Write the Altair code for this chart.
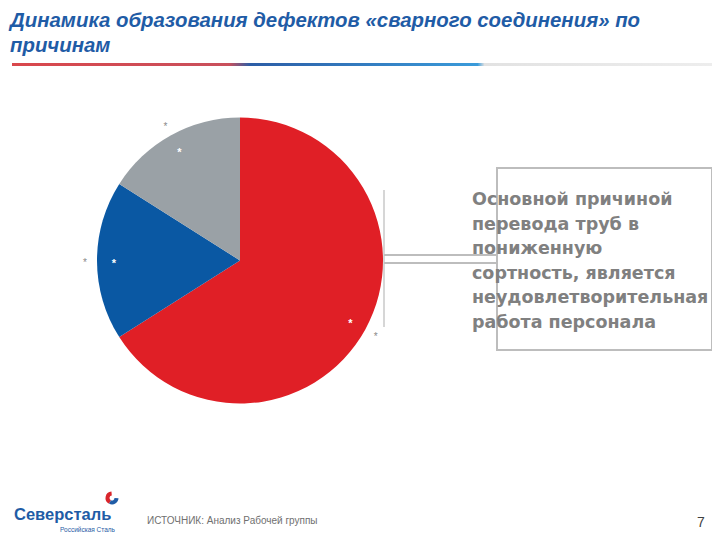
import altair as alt
import pandas as pd

# ---- data ----
reasons = ["Неудовлетворительная работа персонала", "Причина 2", "Причина 3"]
shares = [66, 18, 16]
colors = ["#E01F26", "#0A58A3", "#9AA1A6"]
inner_marks = ["*", "*", "*"]
outer_marks = ["*", "*", "*"]

title_lines = ["Динамика образования дефектов «сварного соединения» по", "причинам"]
note_lines = ["Основной причиной", "перевода труб в", "пониженную",
              "сортность, является", "неудовлетворительная", "работа персонала"]
source_text = "ИСТОЧНИК: Анализ Рабочей группы"
page_number = "7"
logo_text = "Северсталь"
logo_sub = "Российская Сталь"

df = pd.DataFrame({"reason": reasons, "share": shares, "idx": list(range(len(reasons))),
                   "inner": inner_marks, "outer": outer_marks})
one = pd.DataFrame({"a": [0]})

OX, OY = 8, 8  # page margin offset
def px(v): return v - OX
def py(v): return v - OY

CX, CY, R = px(240), py(260.5), 143
FONT = "Liberation Sans"

theta = alt.Theta("share:Q", stack=True)
order = alt.Order("idx:Q", sort="ascending")
color = alt.Color("reason:N", scale=alt.Scale(domain=reasons, range=colors), legend=None)

base = alt.Chart(df)
pie = base.mark_arc(radius=R, strokeWidth=0).encode(
    theta=theta, order=order, color=color, x=alt.value(CX), y=alt.value(CY))
inner = base.mark_text(radius=126, color="white", fontSize=11, font=FONT, fontWeight="bold",
                       baseline="middle", align="center").encode(
    theta=theta, order=order, text="inner:N", x=alt.value(CX), y=alt.value(CY + 3))
outer = base.mark_text(radius=155, color="#8A8A8A", fontSize=10, font=FONT,
                       baseline="middle", align="center").encode(
    theta=theta, order=order, text="outer:N", x=alt.value(CX), y=alt.value(CY + 2))

o = alt.Chart(one)
title = o.mark_text(align="left", baseline="alphabetic", font=FONT, fontSize=20.4,
                    fontStyle="italic", fontWeight="bold", color="#1F5CA6",
                    lineBreak="\n", lineHeight=25).encode(
    x=alt.value(px(10)), y=alt.value(py(27)), text=alt.value("\n".join(title_lines)))

grad = alt.Gradient(gradient="linear", x1=0, x2=1, y1=0, y2=0, stops=[
    alt.GradientStop(color="#D9474C", offset=0),
    alt.GradientStop(color="#C9505C", offset=0.31),
    alt.GradientStop(color="#2C5DA6", offset=0.34),
    alt.GradientStop(color="#3A9BDA", offset=0.665),
    alt.GradientStop(color="#E2E2E2", offset=0.675),
    alt.GradientStop(color="#EDEDED", offset=1)])
gline = o.mark_rect(color=grad).encode(
    x=alt.value(px(12)), x2=alt.value(px(712)), y=alt.value(py(63)), y2=alt.value(py(66)))

box = o.mark_rect(fill="white", fillOpacity=0, stroke="#BDBDBD", strokeWidth=2).encode(
    x=alt.value(px(497)), x2=alt.value(px(712)), y=alt.value(py(168)), y2=alt.value(py(350)))
vline = o.mark_rule(color="#C8C8C8", strokeWidth=1.5).encode(
    x=alt.value(px(384)), y=alt.value(py(190)), y2=alt.value(py(327)))
h1 = o.mark_rule(color="#BDBDBD", strokeWidth=2).encode(
    x=alt.value(px(384)), x2=alt.value(px(497)), y=alt.value(py(255)))
h2 = o.mark_rule(color="#BDBDBD", strokeWidth=2).encode(
    x=alt.value(px(384)), x2=alt.value(px(497)), y=alt.value(py(263)))

note = o.mark_text(align="left", baseline="alphabetic", font="DejaVu Sans", fontSize=17.5,
                   fontWeight="bold", color="#808080", lineBreak="\n", lineHeight=24.5).encode(
    x=alt.value(px(472)), y=alt.value(py(205)), text=alt.value("\n".join(note_lines)))

source = o.mark_text(align="left", baseline="middle", font=FONT, fontSize=10,
                     color="#707070").encode(
    x=alt.value(px(147)), y=alt.value(py(521)), text=alt.value(source_text))
pnum = o.mark_text(align="center", baseline="middle", font=FONT, fontSize=14,
                   color="#404040").encode(
    x=alt.value(px(701)), y=alt.value(py(523)), text=alt.value(page_number))

logo = o.mark_text(align="left", baseline="alphabetic", font=FONT,
                   fontSize=16.5, fontWeight="bold", color="#1F5CA6").encode(
    x=alt.value(px(14)), y=alt.value(py(520)), text=alt.value(logo_text))
logo2 = o.mark_text(align="left", baseline="middle", font=FONT, fontSize=6.5,
                    color="#1F5CA6").encode(
    x=alt.value(px(60)), y=alt.value(py(530)), text=alt.value(logo_sub))
icon_r = o.mark_arc(color="#D9252B", innerRadius=2.5, radius=6.5).encode(
    theta=alt.value(3.6), theta2=alt.value(6.2), x=alt.value(px(112)), y=alt.value(py(498)))
icon_b = o.mark_arc(color="#1F5CA6", innerRadius=2.5, radius=6.5).encode(
    theta=alt.value(1.6), theta2=alt.value(3.6), x=alt.value(px(112)), y=alt.value(py(498)))

chart = alt.layer(gline, title, pie, inner, outer, vline, h1, h2, box, note,
                  source, pnum, logo, logo2, icon_r, icon_b).properties(
    width=704, height=524, autosize=alt.AutoSizeParams(type="none"), padding=0,
    background="white"
).configure_view(strokeWidth=0)

chart.save("out.html", embed_options={"renderer": "svg", "actions": False})
